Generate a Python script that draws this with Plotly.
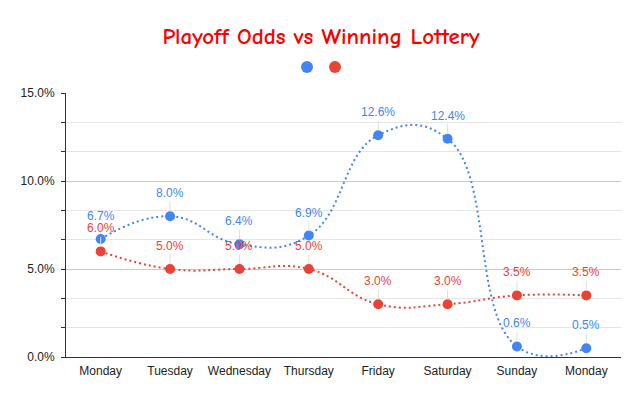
import plotly.graph_objects as go

days = ["Monday", "Tuesday", "Wednesday", "Thursday", "Friday", "Saturday", "Sunday", "Monday"]
playoff_odds = [6.7, 8.0, 6.4, 6.9, 12.6, 12.4, 0.6, 0.5]
lottery_odds = [6.0, 5.0, 5.0, 5.0, 3.0, 3.0, 3.5, 3.5]
y_ticks = [0, 5, 10, 15]

BLUE = "#4285f4"
RED = "#ea4335"
xs = list(range(len(days)))

W, H = 634, 390  # page body has an 8px default margin

fig = go.Figure()
for vals, col in [(playoff_odds, BLUE), (lottery_odds, RED)]:
    fig.add_trace(go.Scatter(
        x=xs, y=vals, mode="lines+markers",
        line=dict(color=col, width=2, dash="2px,3px", shape="spline", smoothing=1.3),
        marker=dict(color=col, size=10),
        showlegend=False, cliponaxis=True,
    ))
    for x, v in zip(xs, vals):
        fig.add_annotation(
            x=x, y=v, text=f"{v:.1f}%", showarrow=True, arrowhead=0,
            arrowwidth=1, arrowcolor="#e0e0e0", ax=0, ay=-23, standoff=5,
            font=dict(color=col, size=12, family="Arial, Liberation Sans"),
        )
# legend entries (dots only), one legend per series
for col, leg in [(BLUE, "legend"), (RED, "legend2")]:
    fig.add_trace(go.Scatter(x=[None], y=[None], mode="markers",
                             marker=dict(color=col, size=12), name=" ", legend=leg))

leg_common = dict(orientation="h", xanchor="left", xref="container",
                  yref="container", y=1 - 59 / H, yanchor="middle",
                  font=dict(size=1), itemwidth=30, bgcolor="rgba(0,0,0,0)")
fig.update_layout(
    width=W, height=H,
    margin=dict(l=58, r=21, t=85, b=41, autoexpand=False),
    paper_bgcolor="white", plot_bgcolor="white",
    title=dict(text="<b>Playoff Odds vs Winning Lottery</b>", x=313 / W, xanchor="center",
               xref="container", yref="container", y=1 - 28 / H, yanchor="middle",
               font=dict(family="Comic Sans MS, Comic Neue, Liberation Sans, Arial", size=23, color="#ff0000")),
    legend=dict(x=(299 - 20) / W, **leg_common),
    legend2=dict(x=(327 - 20) / W, **leg_common),
    font=dict(family="Arial, Liberation Sans", color="#222222", size=12),
)
fig.update_xaxes(
    range=[-0.5, 7.5], tickvals=xs, ticktext=days, showgrid=False,
    showline=True, linecolor="#333333", linewidth=1, ticks="", zeroline=False,
    ticklabelstandoff=3,
    tickfont=dict(size=12, color="#222222"),
)
fig.update_yaxes(
    range=[0, 15], tickvals=y_ticks, ticktext=[f"{t:.1f}%" for t in y_ticks],
    showgrid=True, gridcolor="#cccccc", gridwidth=1,
    showline=True, linecolor="#333333", linewidth=1, zeroline=False, ticks="",
    ticklabelstandoff=8,
    minor=dict(dtick=5/3, tick0=0, showgrid=True, gridcolor="#e6e6e6", ticks="outside",
               ticklen=4, tickcolor="#333333"),
    tickfont=dict(size=12, color="#222222"),
)
fig.write_html("out.html")
